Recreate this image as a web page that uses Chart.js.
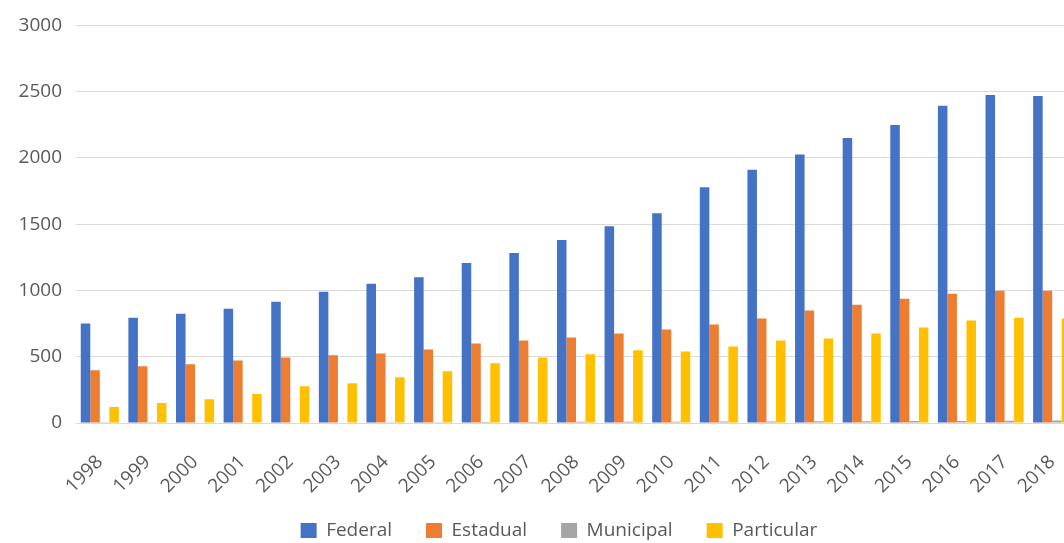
<!DOCTYPE html>
<html lang="pt">
<head>
    <meta charset="UTF-8">
    <title>Matrículas por dependência administrativa</title>
    <script src="https://cdn.jsdelivr.net/npm/chart.js"></script>
    <style>
        html, body {
            margin: 0;
            padding: 0;
            background: #ffffff;
            overflow: hidden;
        }
        .chart-container {
            position: relative;
            width: 1076px;
            height: 543px;
        }
    </style>
</head>
<body>
    <div class="chart-container">
        <canvas id="chart"></canvas>
    </div>

    <script>
        const years = ['1998', '1999', '2000', '2001', '2002', '2003', '2004', '2005', '2006', '2007',
                       '2008', '2009', '2010', '2011', '2012', '2013', '2014', '2015', '2016', '2017', '2018'];
        const federal = [750, 795, 825, 862, 915, 990, 1050, 1100, 1208, 1283,
                         1380, 1485, 1583, 1778, 1910, 2025, 2150, 2248, 2393, 2475, 2468];
        const estadual = [398, 428, 443, 472, 495, 512, 525, 555, 600, 622,
                          645, 675, 705, 743, 788, 848, 893, 938, 975, 998, 998];
        const municipal = [2, 2, 3, 3, 4, 4, 5, 6, 7, 8,
                           9, 10, 10, 11, 12, 13, 14, 15, 16, 17, 18];
        const particular = [120, 150, 180, 218, 278, 300, 345, 390, 450, 495,
                            518, 548, 540, 578, 622, 638, 675, 720, 773, 795, 788];
        const yTicks = [0, 500, 1000, 1500, 2000, 2500, 3000];

        const textColor = '#595959';
        const gridColor = '#d9d9d9';
        const fontFamily = "'Open Sans', 'Noto Sans', sans-serif";
        const fontSize = 19;

        // nudge the legend sideways / vertically once the layout is done
        const legendOffset = {
            id: 'legendOffset',
            afterLayout(chart, args, opts) {
                const lg = chart.legend;
                if (!lg) return;
                lg.left += opts.dx;
                lg.right += opts.dx;
                lg.top += opts.dy;
                lg.bottom += opts.dy;
            }
        };

        const data = {
            labels: years,
            datasets: [
                { label: 'Federal', data: federal, backgroundColor: '#4472c4' },
                { label: 'Estadual', data: estadual, backgroundColor: '#ed7d31' },
                { label: 'Municipal', data: municipal, backgroundColor: '#a5a5a5' },
                { label: 'Particular', data: particular, backgroundColor: '#ffc000' }
            ]
        };

        const ctx = document.getElementById('chart').getContext('2d');
        new Chart(ctx, {
            type: 'bar',
            data: data,
            plugins: [legendOffset],
            options: {
                responsive: true,
                maintainAspectRatio: false,
                animation: false,
                datasets: {
                    bar: { categoryPercentage: 0.8, barPercentage: 1.0 }
                },
                layout: {
                    padding: { left: 0, right: 0, top: 23, bottom: -23 }
                },
                plugins: {
                    legendOffset: { dx: 21, dy: -16 },
                    legend: {
                        position: 'bottom',
                        labels: {
                            boxWidth: 16,
                            boxHeight: 15,
                            padding: 34,
                            color: textColor,
                            font: { family: fontFamily, size: fontSize }
                        }
                    },
                    tooltip: { enabled: false }
                },
                scales: {
                    x: {
                        grid: { display: false, drawTicks: false },
                        border: { color: gridColor },
                        afterFit: (scale) => {
                            scale.height = 80;
                            scale.paddingLeft = 0;
                            scale.paddingRight = 0;
                        },
                        ticks: {
                            color: textColor,
                            font: { family: fontFamily, size: fontSize },
                            minRotation: 45,
                            maxRotation: 45,
                            padding: 28
                        }
                    },
                    y: {
                        min: 0,
                        max: 3000,
                        afterBuildTicks: (scale) => {
                            scale.ticks = yTicks.map(v => ({ value: v }));
                        },
                        afterFit: (scale) => {
                            scale.width = 76;
                        },
                        grid: { color: gridColor, drawTicks: false },
                        border: { display: false },
                        ticks: {
                            color: textColor,
                            font: { family: fontFamily, size: fontSize },
                            padding: 14,
                            callback: (value) => String(value)
                        }
                    }
                }
            }
        });
    </script>
</body>
</html>
